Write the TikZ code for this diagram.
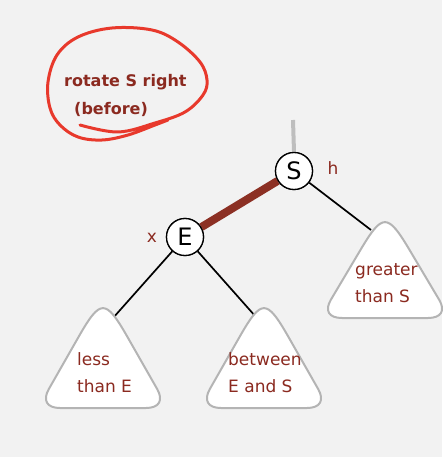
\documentclass[tikz,border=0pt]{standalone}
\usepackage{fontspec}
\setmainfont{DejaVu Sans}
\definecolor{bg}{RGB}{242,242,242}
\definecolor{txtred}{RGB}{139,42,32}
\definecolor{edgered}{RGB}{140,48,36}
\definecolor{loopred}{RGB}{232,57,44}
\definecolor{trigray}{RGB}{180,180,180}
\definecolor{stubgray}{RGB}{190,190,190}
\tikzset{
  treenode/.style={circle, draw=black, line width=1.3pt, fill=white, minimum size=37pt, inner sep=0pt, font=\fontsize{24}{24}\selectfont},
  lbl/.style={text=txtred, font=\fontsize{17}{17}\selectfont, inner sep=0pt},
  title/.style={text=txtred, font=\bfseries\fontsize{16}{16}\selectfont, inner sep=0pt, anchor=base west},
  subtree/.style={draw=trigray, line width=2pt, fill=white},
  link/.style={draw=black, line width=1.7pt},
  redlink/.style={draw=edgered, line width=8pt},
  tlabel/.style={text=txtred, font=\fontsize{17}{17}\selectfont, inner sep=0pt, anchor=base west},
}
\newcommand\subtreeshape{%
  (-43,0) -- (43,0) .. controls (56.2,0) and (60.64,-7.64) .. (54.1,-19.1)
  -- (24.75,-70.55) .. controls (2.48,-109.65) and (-2.48,-109.65) .. (-24.75,-70.55)
  -- (-54.1,-19.1) .. controls (-60.64,-7.64) and (-56.2,0) .. (-43,0) -- cycle}
\begin{document}
\begin{tikzpicture}[x=1pt,y=-1pt]
\fill[bg] (0,0) rectangle (442,457);
\useasboundingbox (0,0) rectangle (442,457);

% hand-drawn loop
\draw[loopred, line width=3pt, line cap=round, line join=round] plot[smooth, tension=0.6] coordinates {
 (80,125) (118,132) (155,123) (185,112) (203,95) (207,80) (200,62) (178,42) (152,30) (112,28) (78,37) (57,55) (48,82) (50,108) (60,125) (78,137) (102,140) (128,135) (155,125) (168,120)};

\node[title] (t1) at (64,87) {rotate S right};
\node[title] (t2) at (74,115) {(before)};

\coordinate (tl) at (113,318);
\coordinate (tm) at (256,317);
\coordinate (tr) at (371,230);
\coordinate (top) at (293,120);

\node[treenode] (S) at (294,171) {S};
\node[treenode] (E) at (185,237) {E};

\draw[stubgray, line width=4pt] (top) -- (S.north);
\draw[redlink] (S) -- (E);
\draw[link] (S) -- (tr);
\draw[link] (E) -- (tl);
\draw[link] (E) -- (tm);

% subtrees
\begin{scope}[shift={(103,408)}]
  \draw[subtree] \subtreeshape;
\end{scope}
\begin{scope}[shift={(264,408)}]
  \draw[subtree] \subtreeshape;
\end{scope}
\begin{scope}[shift={(385,318)}, yscale=0.96]
  \draw[subtree] \subtreeshape;
\end{scope}

\node[treenode] at (S) {S};
\node[treenode] at (E) {E};

\node[lbl] (h) at (333,168) {h};
\node[lbl] (x) at (152,238) {x};

\node[tlabel] (l1) at (77,365) {less};
\node[tlabel] (l2) at (77,392) {than E};
\node[tlabel] (m1) at (228,365) {between};
\node[tlabel] (m2) at (228,392) {E and S};
\node[tlabel] (r1) at (355,275) {greater};
\node[tlabel] (r2) at (355,302) {than S};
\end{tikzpicture}
\end{document}
